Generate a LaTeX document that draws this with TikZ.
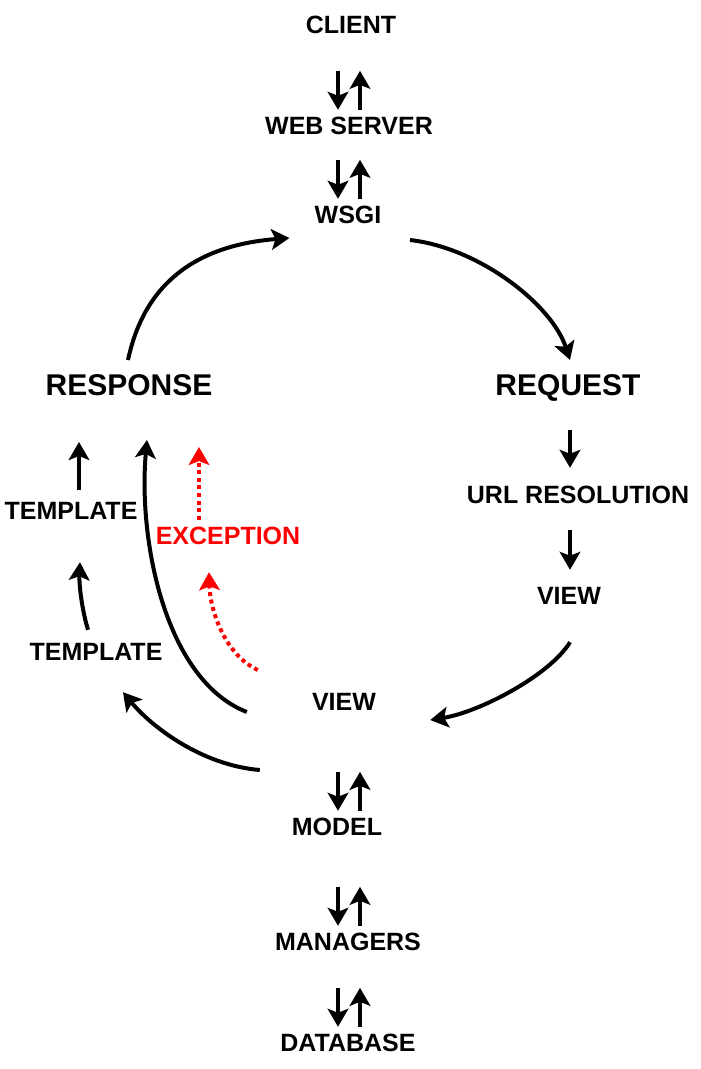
\documentclass[tikz,border=0pt]{standalone}
\usepackage{fontspec}
\setmainfont{Liberation Sans}
\usetikzlibrary{arrows.meta}

\begin{document}
\begin{tikzpicture}[x=0.75pt,y=-0.75pt,
  lbl/.style={font=\bfseries\fontsize{18.75}{20}\selectfont,inner sep=0pt,text height=13.4pt,text depth=0pt},
  big/.style={lbl,font=\bfseries\fontsize{22.5}{24}\selectfont,text height=16.1pt},
  arr/.style={-{Stealth[length=13.5pt,width=15.5pt,inset=3pt]},line width=3pt},
  exarr/.style={arr,red,dash pattern=on 3pt off 2.7pt}]
  \useasboundingbox (0,0) rectangle (700,1069);
  % request side
  \node[lbl] (client) at (351,25) {CLIENT};
  \node[lbl] (web) at (349,126) {WEB SERVER};
  \node[lbl] (wsgi) at (348,215) {WSGI};
  \node[big] (request) at (568,385) {REQUEST};
  \node[lbl] (url) at (578,495) {URL RESOLUTION};
  \node[lbl] (viewr) at (569,596) {VIEW};
  \node[lbl] (viewm) at (344,702) {VIEW};
  \node[lbl] (model) at (337,827) {MODEL};
  \node[lbl] (managers) at (348,942) {MANAGERS};
  \node[lbl] (db) at (348,1043) {DATABASE};
  % response side
  \node[big] (response) at (129,385) {RESPONSE};
  \node[lbl] (tplu) at (71,511) {TEMPLATE};
  \node[lbl] (tpll) at (96,652) {TEMPLATE};
  \node[lbl,text=red] (exc) at (228,536) {EXCEPTION};

  % up/down pairs
  \foreach \n/\dx in {web/-11,wsgi/-10,model/1,managers/-10,db/-10}{
    \draw[arr] ([shift={(\dx,-46)}]\n.north) -- ([shift={(\dx,-7)}]\n.north);
    \draw[arr] ([shift={(\dx+22,-7)}]\n.north) -- ([shift={(\dx+22,-46)}]\n.north);
  }

  \draw[arr] ([shift={(62,25)}]wsgi.center) .. controls (480,248) and (552,305) .. ([shift={(2,-14)}]request.north);
  \draw[arr] ([shift={(2,34)}]request.south) -- ([shift={(-8,-18)}]url.north);
  \draw[arr] ([shift={(-8,26)}]url.south) -- ([shift={(1,-17)}]viewr.north);
  \draw[arr] ([shift={(1,37)}]viewr.south) .. controls (550,675) and (480,712) .. ([shift={(54,18)}]viewm.east);

  \draw[arr] ([shift={(-65,10)}]viewm.west) .. controls (165,680) and (138,540) .. ([shift={(18,44)}]response.south);
  \draw[arr] ([shift={(-52,68)}]viewm.west) .. controls (200,765) and (150,725) .. ([shift={(27,31)}]tpll.south);
  \draw[arr] ([shift={(-8,-13)}]tpll.north) .. controls (82,610) and (79,585) .. ([shift={(9,42)}]tplu.south);
  \draw[arr] ([shift={(8,-12)}]tplu.north) -- ([shift={(-50,46)}]response.south);
  \draw[arr] ([shift={(-1,-14)}]response.north) .. controls (145,280) and (200,245) .. ([shift={(-25,23)}]wsgi.west);

  % exception
  \draw[exarr] ([shift={(-29,-7)}]exc.north) -- ([shift={(70,51)}]response.south);
  \draw[exarr] ([shift={(-54,-32)}]viewm.west) .. controls (225,655) and (210,610) .. ([shift={(-19,27)}]exc.south);
\end{tikzpicture}
\end{document}
